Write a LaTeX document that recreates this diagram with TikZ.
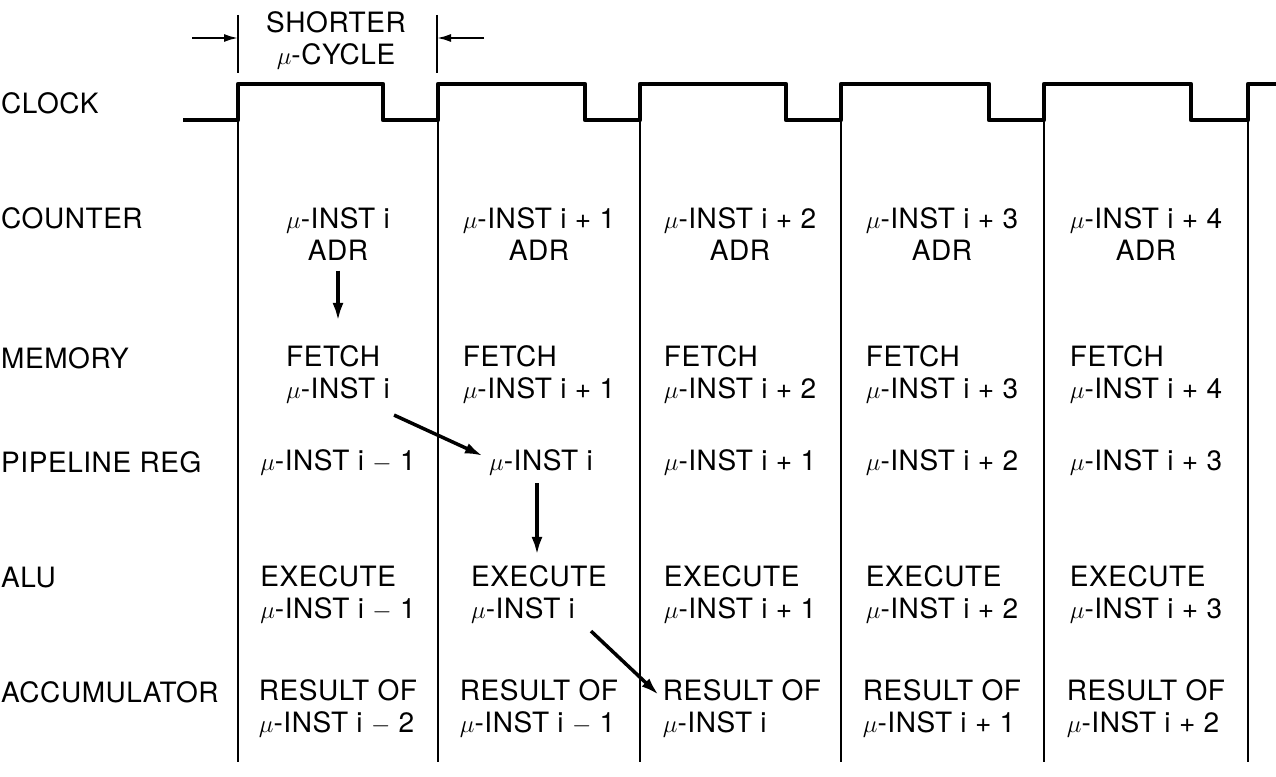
\documentclass[tikz,border=0pt]{standalone}
\usepackage{fontspec}
\setmainfont[LetterSpace=2]{TeX Gyre Heros}
\usetikzlibrary{arrows.meta}
\newcommand{\mi}{$\mu$-INST}
\newcommand{\mn}{ $-$ }
\begin{document}
\begin{tikzpicture}[x=1pt,y=-1pt,
  txt/.style={inner sep=0pt, font=\fontsize{28}{32}\selectfont},
  lbl/.style={txt, anchor=west},
  cell/.style={txt, align=center},
  lcell/.style={txt, align=left},
  clk/.style={line width=4.5pt, line join=round},
  sep/.style={line width=1.8pt},
  arr/.style={-{Latex[length=18pt,width=11pt]}, line width=3.5pt},
  dimarr/.style={-{Latex[length=14pt,width=8pt]}, line width=2pt}]
\useasboundingbox (0,0) rectangle (1276,776);
% clock
\draw[clk] (183,120) -- (238,120) -- (238,84) -- (383,84) -- (383,120) -- (438,120) -- (438,84)
  -- (585,84) -- (585,120) -- (640,120) -- (640,84) -- (786,84) -- (786,120) -- (841,120)
  -- (841,84) -- (989,84) -- (989,120) -- (1044,120) -- (1044,84) -- (1191,84) -- (1191,120)
  -- (1248,120) -- (1248,84) -- (1276,84);
% column separators
\foreach \x in {238,438,640,841,1044,1248} \draw[sep] (\x,120) -- (\x,762);
% shorter cycle annotation
\coordinate (t1a) at (238,15); \coordinate (t1b) at (238,73);
\coordinate (t2a) at (437,15); \coordinate (t2b) at (437,73);
\draw[sep] (t1a) -- (t1b); \draw[sep] (t2a) -- (t2b);
\coordinate (d1) at (192,38); \coordinate (d1e) at (238,38);
\coordinate (d2) at (484,38); \coordinate (d2e) at (437,38);
\draw[dimarr] (d1) -- (d1e);
\draw[dimarr] (d2) -- (d2e);
\node[cell] (short) at (336,40) {SHORTER\\$\mu$-CYCLE};
% row labels
\node[lbl] (lclk) at (1,103) {CLOCK};
\node[lbl] (lcnt) at (1,218) {COUNTER};
\node[lbl] (lmem) at (1,358) {MEMORY};
\node[lbl] (lpip) at (1,462) {PIPELINE REG};
\node[lbl] (lalu) at (1,578) {ALU};
\node[lbl] (lacc) at (1,692) {ACCUMULATOR};
% counter row
\node[cell] (cnt1) at (338,234) {\mi\ i\\ADR};
\node[cell] (cnt2) at (539,234) {\mi\ i + 1\\ADR};
\node[cell] (cnt3) at (740,234) {\mi\ i + 2\\ADR};
\node[cell] (cnt4) at (942,234) {\mi\ i + 3\\ADR};
\node[cell] (cnt5) at (1146,234) {\mi\ i + 4\\ADR};
% memory row
\node[lcell] (mem1) at (338,374) {FETCH\\\mi\ i};
\node[lcell] (mem2) at (539,374) {FETCH\\\mi\ i + 1};
\node[lcell] (mem3) at (740,374) {FETCH\\\mi\ i + 2};
\node[lcell] (mem4) at (942,374) {FETCH\\\mi\ i + 3};
\node[lcell] (mem5) at (1146,374) {FETCH\\\mi\ i + 4};
% pipeline row
\node[cell] (pip1) at (338,462) {\mi\ i\mn 1};
\node[cell] (pip2) at (541,462) {\mi\ i};
\node[cell] (pip3) at (740,462) {\mi\ i + 1};
\node[cell] (pip4) at (942,462) {\mi\ i + 2};
\node[cell] (pip5) at (1146,462) {\mi\ i + 3};
% alu row
\node[lcell] (alu1) at (338,594) {EXECUTE\\\mi\ i\mn 1};
\node[lcell] (alu2) at (539,594) {EXECUTE\\\mi\ i};
\node[lcell] (alu3) at (740,594) {EXECUTE\\\mi\ i + 1};
\node[lcell] (alu4) at (942,594) {EXECUTE\\\mi\ i + 2};
\node[lcell] (alu5) at (1146,594) {EXECUTE\\\mi\ i + 3};
% accumulator row
\node[lcell] (acc1) at (338,708) {RESULT OF\\\mi\ i\mn 2};
\node[lcell] (acc2) at (539,708) {RESULT OF\\\mi\ i\mn 1};
\node[lcell] (acc3) at (742,708) {RESULT OF\\\mi\ i};
\node[lcell] (acc4) at (942,708) {RESULT OF\\\mi\ i + 1};
\node[lcell] (acc5) at (1146,708) {RESULT OF\\\mi\ i + 2};
% flow arrows
\draw[arr, shorten <=10pt, shorten >=24pt] (cnt1.south) -- (cnt1.south |- mem1.north);
\draw[arr] ([xshift=4pt,yshift=-12pt]mem1.south east) -- ([xshift=-6pt,yshift=-7pt]pip2.north west);
\draw[arr, shorten <=8pt, shorten >=10pt] ([xshift=-4pt]pip2.south) -- ([xshift=-4pt]pip2.south |- alu2.north);
\draw[arr] ([xshift=120pt,yshift=-8pt]alu2.south west) -- ([xshift=-4pt,yshift=-16pt]acc3.north west);
\end{tikzpicture}
\end{document}
